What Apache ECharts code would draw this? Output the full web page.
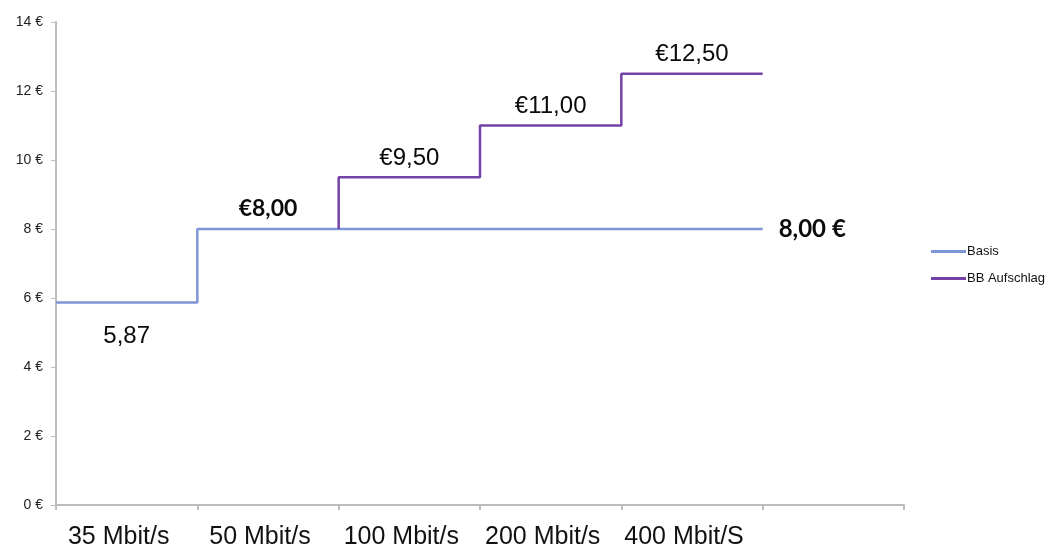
<!DOCTYPE html>
<html><head><meta charset="utf-8">
<script src="https://cdn.jsdelivr.net/npm/echarts@6/dist/echarts.min.js"></script>
<style>html,body{margin:0;padding:0;background:#fff}#c{width:1059px;height:546px}</style>
</head><body><div id="c"></div>
<script>
const categories = ['35 Mbit/s', '50 Mbit/s', '100 Mbit/s', '200 Mbit/s', '400 Mbit/S', ''];
const yTicks = [0, 2, 4, 6, 8, 10, 12, 14];
const basisValues = [5.87, 8, 8, 8, 8];
const bbValues = [null, null, 9.5, 11, 12.5];
const seriesNames = ['Basis', 'BB Aufschlag'];

// build step polylines: each category i spans [i, i+1] at its value
function steps(vals, startLevel) {
  const pts = [];
  vals.forEach((v, i) => {
    if (v == null) return;
    if (pts.length === 0 && startLevel != null) pts.push([i, startLevel]);
    pts.push([i, v]); pts.push([i + 1, v]);
  });
  return pts;
}
const firstBB = bbValues.findIndex(v => v != null);
const basisPts = steps(basisValues);
const bbPts = steps(bbValues, basisValues[firstBB]);

const fmtEuroPre = v => '€' + v.toFixed(2).replace('.', ',');
const regularLabels = [];
bbValues.forEach((v, i) => { if (v != null) regularLabels.push([i + 0.5, v, fmtEuroPre(v)]); });
const lowLabels = [[0.5, basisValues[0], basisValues[0].toFixed(2).replace('.', ',')]];
const boldLabels = [[1.5, basisValues[1], fmtEuroPre(basisValues[1])]];
const endLabels = [[basisValues.length, basisValues[basisValues.length - 1], basisValues[basisValues.length - 1].toFixed(2).replace('.', ',') + ' €']];

const chart = echarts.init(document.getElementById('c'));
const labelSeries = (data, pos, font, extra) => ({
  type: 'scatter', xAxisIndex: 1, data: data, symbolSize: 0, silent: true,
  itemStyle: { opacity: 1, color: '#000' },
  label: Object.assign({ show: true, position: pos, formatter: p => p.data[2], color: '#0a0a0a', opacity: 1, textBorderWidth: 0 }, font, extra)
});
chart.setOption({
  animation: false,
  grid: { left: 56, right: 155, top: 22, bottom: 41, containLabel: false, outerBoundsMode: 'none' },
  legend: {
    orient: 'vertical', left: 926, top: 240, itemWidth: 35, itemHeight: 3, itemGap: 14,
    icon: 'rect', data: seriesNames,
    textStyle: { fontFamily: 'Liberation Sans', fontSize: 13, color: '#111', padding: [0, 0, 0, -4] }
  },
  xAxis: [{
    type: 'category', data: categories, boundaryGap: true,
    axisLine: { lineStyle: { color: '#bdbdbd', width: 2 } },
    axisTick: { show: true, length: 5, lineStyle: { color: '#bdbdbd', width: 2 }, alignWithLabel: false },
    axisLabel: { fontFamily: 'Liberation Sans', fontSize: 25, color: '#111', margin: 20, interval: 0, padding: [0, 16, 0, 0] },
    splitLine: { show: false }
  }, {
    type: 'value', min: 0, max: categories.length, show: false
  }],
  yAxis: {
    type: 'value', min: yTicks[0], max: yTicks[yTicks.length - 1], interval: yTicks[1] - yTicks[0],
    axisLine: { show: true, lineStyle: { color: '#bdbdbd', width: 2 } },
    axisTick: { show: true, length: 5, lineStyle: { color: '#bdbdbd', width: 1 } },
    axisLabel: { fontFamily: 'Liberation Sans', fontSize: 14, color: '#222', margin: 13, formatter: v => v + ' €' },
    splitLine: { show: false }
  },
  series: [
    { name: seriesNames[0], type: 'line', xAxisIndex: 1, data: basisPts, symbol: 'none',
      lineStyle: { color: '#7f96d6', width: 2.5 }, itemStyle: { color: '#7f96d6' }, z: 2 },
    { name: seriesNames[1], type: 'line', xAxisIndex: 1, data: bbPts, symbol: 'none',
      lineStyle: { color: '#7442a6', width: 2.5 }, itemStyle: { color: '#7442a6' }, z: 3 },
    labelSeries(regularLabels, 'top', { fontFamily: 'Liberation Sans', fontSize: 24 }, { distance: 7 }),
    labelSeries(lowLabels, 'bottom', { fontFamily: 'Liberation Sans', fontSize: 24 }, { distance: 22 }),
    labelSeries(boldLabels, 'top', { fontFamily: 'Lato', fontWeight: 'bold', fontSize: 23 }, { distance: 9 }),
    labelSeries(endLabels, 'right', { fontFamily: 'Lato', fontWeight: 'bold', fontSize: 24 }, { distance: 16 })
  ]
});
</script></body></html>
